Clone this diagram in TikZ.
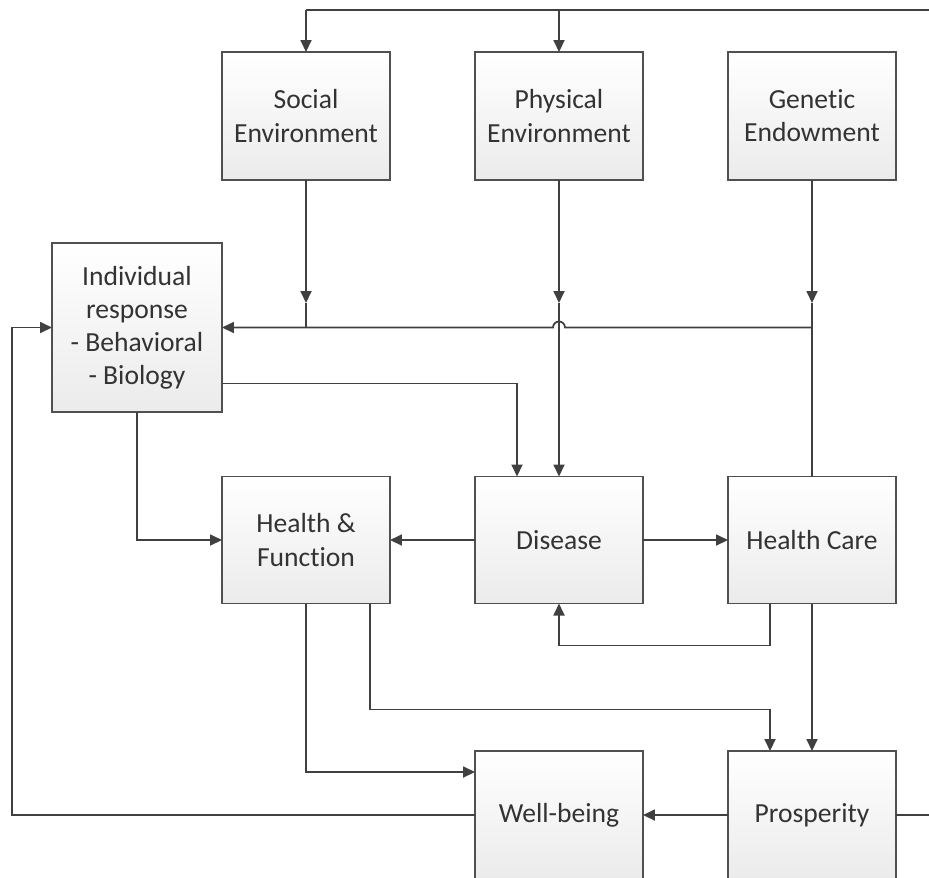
\documentclass[tikz,border=0pt]{standalone}
\usepackage{fontspec}
\setmainfont{Carlito}[Ligatures=NoCommon]
\usetikzlibrary{arrows.meta,calc}
\definecolor{linec}{HTML}{404040}
\definecolor{bordc}{HTML}{505050}
\definecolor{txt}{HTML}{333333}
\definecolor{boxbot}{HTML}{EBEBEB}
\newcommand\boxfont{\fontsize{15.7}{18.8}\selectfont}
\begin{document}
\begin{tikzpicture}[x=0.02cm,y=-0.02cm,
  box/.style={draw=bordc, line width=1pt, top color=white, bottom color=boxbot,
    minimum width=3.36cm, minimum height=2.56cm, inner sep=0pt, outer sep=0pt,
    align=center, text=txt, font=\boxfont},
  conn/.style={draw=linec, line width=1pt},
  arr/.style={conn, -{Triangle[length=0.24cm,width=0.22cm]}}]
\useasboundingbox (0,0) rectangle (929,877);
% boxes
\node[box] (soc) at (306,116) {Social\\Environment};
\node[box] (phy) at (559,116) {Physical\\Environment};
\node[box] (gen) at (812,116) {Genetic\\Endowment};
\node[box, minimum width=3.4cm, minimum height=3.38cm] (ind) at (137,327.5) {Individual\\response\\- Behavioral\\- Biology};
\node[box, minimum height=2.54cm] (hf) at (306,540) {Health \&\\Function};
\node[box, minimum height=2.54cm] (dis) at (559,540) {Disease};
\node[box, minimum height=2.54cm] (hc) at (812,540) {Health Care};
\node[box] (wb) at (559,815) {Well-being};
\node[box] (pro) at (812,815) {Prosperity};
% coordinates
\coordinate (tr) at (929,10);
\coordinate (sa) at (306,303);
\coordinate (sj) at (306,327.5);
\coordinate (pa) at (559,303);
\coordinate (ga) at (812,303);
\coordinate (gj) at (812,327.5);
\coordinate (jmp) at (565,327.5);
\coordinate (rt) at (929,815);
\coordinate (lb) at (12,815);
% top feed
\draw[conn] (tr) -- (soc.north |- tr);
\draw[arr] (soc.north |- tr) -- (soc.north);
\draw[arr] (phy.north |- tr) -- (phy.north);
% environment into junction line
\draw[arr] (soc.south) -- (sa);
\draw[conn] (sa) -- (sj);
\draw[arr] (phy.south) -- (pa);
\draw[arr] (pa) -- (dis.north);
\draw[arr] (gen.south) -- (ga);
\draw[conn] (ga) -- (gj);
\draw[conn] (hc.north) -- (gj);
\draw[arr] (gj) -- (jmp) arc[start angle=0, end angle=180, radius=0.12cm] -- (ind.east);
% individual response
\draw[arr] ($(ind.east)+(0,56)$) -| ($(dis.north)+(-42,0)$);
\draw[arr] (ind.south) |- (hf.west);
% middle row
\draw[arr] (dis.west) -- (hf.east);
\draw[arr] (dis.east) -- (hc.west);
\draw[arr] ($(hc.south)+(-42,0)$) -- ++(0,42) -| (dis.south);
\draw[arr] (hc.south) -- (pro.north);
\draw[arr] ($(hf.south)+(64,0)$) -- ++(0,106) -| ($(pro.north)+(-42,0)$);
\draw[arr] (hf.south) |- ($(wb.west)+(0,-43)$);
% bottom row
\draw[arr] (pro.west) -- (wb.east);
\draw[conn] (pro.east) -- (rt);
\draw[arr] (wb.west) -- (lb) |- (ind.west);
\end{tikzpicture}
\end{document}
